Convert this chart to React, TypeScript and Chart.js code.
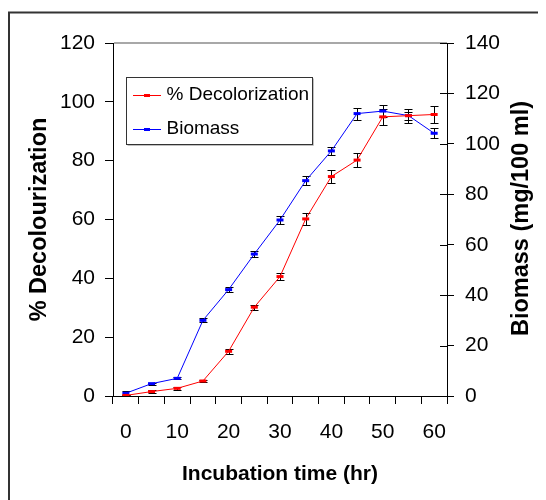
import React, { useEffect, useRef } from "react";
import { Chart, registerables } from "chart.js";

Chart.register(...registerables);

const LABELS = ["0", "5", "10", "15", "20", "25", "30", "35", "40", "45", "50", "55", "60"];
const DECOL = [0.2, 1.5, 2.6, 5.1, 15.2, 30.2, 40.6, 60.2, 74.6, 80.2, 94.9, 95.3, 95.7];
const DECOL_ERR = [0.3, 0.4, 0.4, 0.4, 0.8, 0.85, 1.3, 1.9, 2.3, 2.3, 2.8, 2.4, 2.8];
const BIOMASS = [1.1, 4.9, 7.0, 30.0, 42.2, 56.3, 69.8, 85.4, 97.2, 112.0, 113.0, 111.2, 104.2];
const BIOMASS_ERR = [0.8, 0.4, 0.4, 0.8, 0.9, 1.1, 1.5, 1.9, 1.6, 2.4, 2.3, 1.6, 2.0];
const SERIES_NAMES = ["% Decolorization", "Biomass"];
const SERIES_COLORS = ["#ff0000", "#0000ff"];
const X_TITLE = "Incubation time (hr)";
const Y_TITLE = "% Decolourization";
const Y2_TITLE = "Biomass (mg/100 ml)";

const FONT = "'Liberation Sans', Arial, sans-serif";

const extras = {
  id: "extras",
  beforeDatasetsDraw(chart: any) {
    const ctx = chart.ctx;
    const errs = [DECOL_ERR, BIOMASS_ERR];
    const vals = [DECOL, BIOMASS];
    ctx.save();
    ctx.strokeStyle = "#000";
    ctx.lineWidth = 1;
    chart.data.datasets.forEach((ds: any, di: number) => {
      const meta = chart.getDatasetMeta(di);
      const scale = chart.scales[ds.yAxisID];
      meta.data.forEach((pt: any, i: number) => {
        const v = vals[di][i];
        const e = errs[di][i];
        const x = Math.round(pt.x) + 0.5;
        const yt = Math.round(scale.getPixelForValue(v + e)) + 0.5;
        const yb = Math.round(scale.getPixelForValue(v - e)) + 0.5;
        ctx.beginPath();
        ctx.moveTo(x, yt);
        ctx.lineTo(x, yb);
        ctx.moveTo(x - 4, yt);
        ctx.lineTo(x + 4, yt);
        ctx.moveTo(x - 4, yb);
        ctx.lineTo(x + 4, yb);
        ctx.stroke();
      });
    });
    ctx.restore();
  },
  afterDraw(chart: any) {
    const ctx = chart.ctx;
    const ca = chart.chartArea;
    ctx.save();
    // outer frame
    ctx.strokeStyle = "#333";
    ctx.lineWidth = 2;
    ctx.strokeRect(1, 4.5, chart.width + 20, chart.height + 20);
    // top gray border of plot area
    ctx.fillStyle = "#a8a8a8";
    ctx.fillRect(ca.left + 1, ca.top - 1, ca.right - ca.left - 1, 2);
    // inner part of right axis ticks
    const y1 = chart.scales.y1;
    ctx.strokeStyle = "#000";
    ctx.lineWidth = 1;
    y1.ticks.forEach((t: any) => {
      const y = Math.round(y1.getPixelForValue(t.value)) + 0.5;
      ctx.beginPath();
      ctx.moveTo(ca.right - 7, y);
      ctx.lineTo(ca.right, y);
      ctx.stroke();
    });
    // right axis title
    ctx.save();
    ctx.translate(514, (ca.top + ca.bottom) / 2 - 1);
    ctx.rotate(-Math.PI / 2);
    ctx.font = `bold 23.5px ${FONT}`;
    ctx.fillStyle = "#000";
    ctx.textAlign = "center";
    ctx.textBaseline = "middle";
    ctx.fillText(Y2_TITLE, 0, 0);
    ctx.restore();
    // legend
    const bx = 118.5, by = 69.5, bw = 186, bh = 67;
    ctx.fillStyle = "#fff";
    ctx.fillRect(bx, by, bw, bh);
    ctx.strokeStyle = "#c0c0c0";
    ctx.beginPath();
    ctx.moveTo(bx + 1, by + bh + 1);
    ctx.lineTo(bx + bw + 1, by + bh + 1);
    ctx.moveTo(bx + bw + 1, by + 1);
    ctx.lineTo(bx + bw + 1, by + bh + 1);
    ctx.stroke();
    ctx.strokeStyle = "#333";
    ctx.strokeRect(bx, by, bw, bh);
    const rows = [87, 121];
    SERIES_NAMES.forEach((name, i) => {
      const y = rows[i];
      ctx.strokeStyle = SERIES_COLORS[i];
      ctx.lineWidth = 1;
      ctx.beginPath();
      ctx.moveTo(125, y + 0.5);
      ctx.lineTo(153, y + 0.5);
      ctx.stroke();
      ctx.fillStyle = SERIES_COLORS[i];
      ctx.fillRect(136, y - 1, 6, 3);
      ctx.fillStyle = "#000";
      ctx.font = `19px ${FONT}`;
      ctx.textAlign = "left";
      ctx.textBaseline = "middle";
      ctx.fillText(name, 158.5, y);
    });
    ctx.restore();
  },
};

export default function App() {
  const ref = useRef<HTMLCanvasElement>(null);
  useEffect(() => {
    if (!ref.current) return;
    const tickFont = { family: FONT, size: 21 };
    const chart = new Chart(ref.current, {
      type: "line",
      data: {
        labels: LABELS,
        datasets: [
          {
            label: SERIES_NAMES[0],
            data: DECOL,
            yAxisID: "y",
            borderColor: SERIES_COLORS[0],
            backgroundColor: SERIES_COLORS[0],
            borderWidth: 1,
            pointStyle: "line",
            pointRadius: 3.5,
            pointBorderWidth: 3,
            pointBorderColor: SERIES_COLORS[0],
            tension: 0,
          },
          {
            label: SERIES_NAMES[1],
            data: BIOMASS,
            yAxisID: "y1",
            borderColor: SERIES_COLORS[1],
            backgroundColor: SERIES_COLORS[1],
            borderWidth: 1,
            pointStyle: "line",
            pointRadius: 3.5,
            pointBorderWidth: 3,
            pointBorderColor: SERIES_COLORS[1],
            tension: 0,
          },
        ],
      },
      options: {
        responsive: false,
        animation: false,
        layout: { padding: { top: 35, left: 0, right: 0, bottom: 0 } },
        plugins: {
          legend: { display: false },
          tooltip: { enabled: false },
        },
        scales: {
          x: {
            type: "category",
            offset: true,
            grid: { offset: true, drawOnChartArea: false, drawTicks: true, tickLength: 8, color: "#000" },
            border: { color: "#000", width: 1 },
            ticks: {
              autoSkip: false,
              maxRotation: 0,
              padding: 16,
              color: "#000",
              font: tickFont,
              callback: (_v: any, i: number) => (i % 2 === 0 ? LABELS[i] : ""),
            },
            title: {
              display: true,
              text: X_TITLE,
              color: "#000",
              font: { family: FONT, size: 21, weight: "bold" },
              padding: { top: 0, bottom: 13 },
            },
            afterFit: (s: any) => {
              s.height = 104;
            },
          },
          y: {
            position: "left",
            min: 0,
            max: 120,
            grid: { drawOnChartArea: false, drawTicks: true, tickLength: 8, color: "#000" },
            border: { color: "#000", width: 1 },
            ticks: { stepSize: 20, padding: 10, color: "#000", font: tickFont },
            title: {
              display: true,
              text: Y_TITLE,
              color: "#000",
              font: { family: FONT, size: 23.5, weight: "bold" },
              padding: { top: 17, bottom: 0 },
            },
            afterFit: (s: any) => {
              s.width = 105;
            },
          },
          y1: {
            position: "right",
            min: 0,
            max: 140,
            grid: { drawOnChartArea: false, drawTicks: true, tickLength: 7, color: "#000" },
            border: { color: "#000", width: 1 },
            ticks: { stepSize: 20, padding: 11, color: "#000", font: tickFont },
            afterFit: (s: any) => {
              s.width = 99;
            },
          },
        },
      },
      plugins: [extras],
    } as any);
    return () => chart.destroy();
  }, []);
  return <canvas ref={ref} width={538} height={492} style={{ display: "block" }} />;
}
